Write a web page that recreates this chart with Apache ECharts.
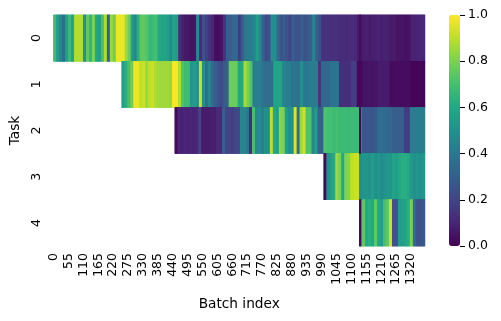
<!DOCTYPE html>
<html lang="en">
<head>
    <meta charset="UTF-8">
    <title>Batch heatmap</title>
    <script src="https://cdn.jsdelivr.net/npm/echarts@6/dist/echarts.min.js"></script>
    <style>
        html, body { margin: 0; padding: 0; background: #fff; }
    </style>
</head>
<body>
<div id="main" style="width:501px;height:321px;"></div>
<script>
    var taskNames = ['0', '1', '2', '3', '4'];
    var batchCount = 1372;
    // values are read per block of 11 batches, starting at each task's first batch
    var blockSize = 11;
    var taskStarts = [0, 252, 448, 998, 1130];

    var task0 = [.68, .55, .45, .35, .55, .68, .58, .88, .88, .88, .5, .75, .65, .8, .6, .55, .7, .88, .3, .85,
        .78, .97, .97, .97, .85, .78, .55, .45, .62, .75, .75, .72, .66, .68, .7, .6, .58, .58, .55, .48,
        .58, .55, .12, .08, .06, .06, .05, .05, .48, .12, .25, .18, .14, .1, .03, .03, .05, .15, .3, .3,
        .33, .33, .17, .3, .4, .42, .42, .45, .55, .45, .3, .22, .25, .5, .48, .35, .25, .28, .25, .2,
        .3, .25, .25, .3, .25, .28, .3, .45, .3, .25, .14, .14, .14, .13, .14, .13, .12, .12, .11, .12,
        .12, .11, .07, .06, .08, .08, .07, .08, .09, .09, .08, .09, .08, .07, .07, .05, .05, .05, .04, .05,
        .09, .09, .1, .1, .1];
    var task1 = [.55, .62, .7, .78, .97, .97, .9, .92, .85, .9, .92, .87, .86, .85, .86, .85, .84, .99, .99, .88,
        .72, .68, .68, .52, .55, .5, .92, .5, .35, .45, .35, .3, .25, .22, .28, .3, .77, .77, .77,
        .6, .6, .87, .8, .72, .42, .42, .42, .38, .35, .35, .35, .58, .58, .58, .45, .42, .42, .38, .38,
        .38, .5, .4, .4, .42, .42, .42, .15, .33, .33, .33, .38, .38, .38, .13, .13, .13, .13, .18, .18,
        .02, .02, .05, .05, .05, .05, .05, .07, .07, .07, .07, .03, .03, .03, .03, .03, .03, .03, .01, .01,
        .01, .01, .01, .01];
    var task2 = [.02, .1, .09, .1, .09, .1, .09, .1, .2, .07, .07, .07, .08, .08, .12, .12, .3, .2, .2, .18,
        .2, .22, .45, .45, .4, .12, .7, .45, .48, .42, .5, .48, .9, .6, .55, .82, .8, .55, .5, .5,
        .95, .35, .85, .92, .72, .72, .45, .55, .3, .3, .72, .7, .7, .68, .69, .68, .68, .68, .67, .68,
        .68, .68, .45, .27, .27, .27, .27, .28, .35, .35, .35, .33, .33, .3, .3, .3, .3, .17, .17, .42,
        .42, .42, .42, .42];
    var task3 = [.02, .5, .55, .6, .85, .8, .6, .8, .82, .9, .92, .92, .48, .52, .52, .5, .55, .5, .52, .48,
        .5, .52, .52, .58, .55, .6, .62, .62, .6, .52, .5, .52, .5, .52];
    var task4 = [.45, .75, .6, .62, .6, .75, .6, .55, .7, .75, .93, .25, .25, .55, .55, .58, .62, .8, .35, .25,
        .25, .28];
    var taskValues = [task0, task1, task2, task3, task4];

    // the very dark line where a new task begins, only a few batches wide
    var lineBatches = [1130, 1131, 1132, 1133];
    var lineTasks = [0, 2, 4];
    var lineValues = [.03, .0, .0];

    var viridis = ['#440154', '#482576', '#414487', '#355f8d', '#2a788e', '#21918c',
        '#22a884', '#44bf70', '#7ad151', '#bddf26', '#fde725'];

    var batches = [];
    for (var i = 0; i < batchCount; i++) {
        batches.push(String(i));
    }

    var cells = [];
    taskValues.forEach(function (values, task) {
        values.forEach(function (v, block) {
            for (var k = 0; k < blockSize; k++) {
                var batch = taskStarts[task] + block * blockSize + k;
                if (batch < batchCount) {
                    cells.push([batch, task, v]);
                }
            }
        });
    });
    lineTasks.forEach(function (task, n) {
        lineBatches.forEach(function (batch) {
            cells.push([batch, task, lineValues[n]]);
        });
    });

    var font = 'DejaVu Sans';
    var myChart = echarts.init(document.getElementById('main'), null, {renderer: 'canvas'});
    myChart.setOption({
        animation: false,
        backgroundColor: '#fff',
        grid: [
            {left: 53.5, top: 15, width: 371.5, height: 231},
            {left: 449, top: 15, width: 11, height: 231}
        ],
        xAxis: [
            {
                type: 'category',
                data: batches,
                name: 'Batch index',
                nameLocation: 'middle',
                nameGap: 51,
                nameTextStyle: {fontFamily: font, fontSize: 13.7, color: '#000'},
                axisLine: {show: false},
                axisTick: {alignWithLabel: true, interval: 54, length: 5, lineStyle: {color: '#000', width: 1}},
                axisLabel: {interval: 54, rotate: 90, margin: 7, fontFamily: font, fontSize: 12.5, color: '#000'},
                splitLine: {show: false}
            },
            {gridIndex: 1, type: 'value', show: false, min: 0, max: 1}
        ],
        yAxis: [
            {
                type: 'category',
                inverse: true,
                data: taskNames,
                name: 'Task',
                nameLocation: 'middle',
                nameGap: 31,
                nameTextStyle: {fontFamily: font, fontSize: 13.7, color: '#000'},
                axisLine: {show: false},
                axisTick: {alignWithLabel: true, length: 5, lineStyle: {color: '#000', width: 1}},
                axisLabel: {rotate: 90, margin: 10, fontFamily: font, fontSize: 12.5, color: '#000'},
                splitLine: {show: false}
            },
            {
                gridIndex: 1,
                type: 'value',
                position: 'right',
                min: 0,
                max: 1,
                interval: 0.2,
                axisLine: {show: false, onZero: false},
                axisTick: {show: true, length: 5, lineStyle: {color: '#000', width: 1}},
                axisLabel: {
                    margin: 8,
                    fontFamily: font,
                    fontSize: 12.5,
                    color: '#000',
                    formatter: function (v) { return v.toFixed(1); }
                },
                splitLine: {show: false}
            }
        ],
        visualMap: {
            type: 'continuous',
            seriesIndex: 0,
            min: 0,
            max: 1,
            calculable: false,
            orient: 'vertical',
            left: 449,
            top: 15,
            padding: 0,
            itemWidth: 11,
            itemHeight: 231,
            inRange: {color: viridis}
        },
        series: [{
            type: 'heatmap',
            data: cells,
            progressive: 0,
            emphasis: {disabled: true},
            itemStyle: {borderWidth: 0}
        }]
    });
</script>
</body>
</html>
